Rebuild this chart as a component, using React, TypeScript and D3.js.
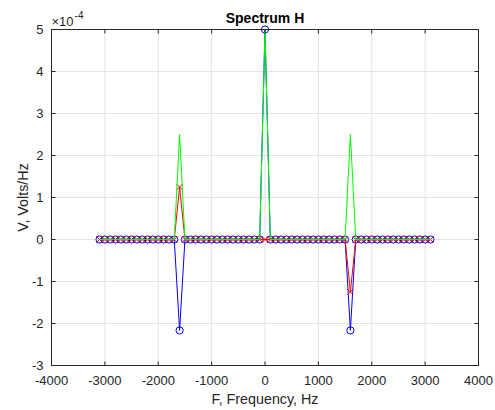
import React from 'react';
import * as d3 from 'd3';

const freqs = [
  -3100, -3000, -2900, -2800, -2700, -2600, -2500, -2400, -2300, -2200, -2100,
  -2000, -1900, -1800, -1700, -1600, -1500, -1400, -1300, -1200, -1100,
  -1000, -900, -800, -700, -600, -500, -400, -300, -200, -100,
  0,
  100, 200, 300, 400, 500, 600, 700, 800, 900, 1000,
  1100, 1200, 1300, 1400, 1500, 1600, 1700, 1800, 1900, 2000,
  2100, 2200, 2300, 2400, 2500, 2600, 2700, 2800, 2900, 3000, 3100,
];

// Real part (blue, circles)
const realH = [
  0, 0, 0, 0, 0, 0, 0, 0, 0, 0, 0, 0, 0, 0, 0,
  -2.165e-4,
  0, 0, 0, 0, 0, 0, 0, 0, 0, 0, 0, 0, 0, 0, 0,
  5e-4,
  0, 0, 0, 0, 0, 0, 0, 0, 0, 0, 0, 0, 0, 0, 0,
  -2.165e-4,
  0, 0, 0, 0, 0, 0, 0, 0, 0, 0, 0, 0, 0, 0, 0,
];

// Imaginary part (red, x markers)
const imagH = [
  0, 0, 0, 0, 0, 0, 0, 0, 0, 0, 0, 0, 0, 0, 0,
  1.25e-4,
  0, 0, 0, 0, 0, 0, 0, 0, 0, 0, 0, 0, 0, 0, 0,
  0,
  0, 0, 0, 0, 0, 0, 0, 0, 0, 0, 0, 0, 0, 0, 0,
  -1.25e-4,
  0, 0, 0, 0, 0, 0, 0, 0, 0, 0, 0, 0, 0, 0, 0,
];

// Magnitude (green line)
const absH = [
  0, 0, 0, 0, 0, 0, 0, 0, 0, 0, 0, 0, 0, 0, 0,
  2.5e-4,
  0, 0, 0, 0, 0, 0, 0, 0, 0, 0, 0, 0, 0, 0, 0,
  5e-4,
  0, 0, 0, 0, 0, 0, 0, 0, 0, 0, 0, 0, 0, 0, 0,
  2.5e-4,
  0, 0, 0, 0, 0, 0, 0, 0, 0, 0, 0, 0, 0, 0, 0,
];

const xTicks = [-4000, -3000, -2000, -1000, 0, 1000, 2000, 3000, 4000];
const yTicks = [-3e-4, -2e-4, -1e-4, 0, 1e-4, 2e-4, 3e-4, 4e-4, 5e-4];
const yTickLabels = ['-3', '-2', '-1', '0', '1', '2', '3', '4', '5'];

const titleText = 'Spectrum H';
const xLabelText = 'F, Frequency, Hz';
const yLabelText = 'V, Volts/Hz';

const FONT = '"Liberation Sans", Arial, Helvetica, sans-serif';
const AXIS = '#262626';
const GRID = '#e3e3e3';

export default function App() {
  const W = 495;
  const H = 410;
  const L = 51.5, R = 478.5, T = 29.5, B = 365.5;
  const x = d3.scaleLinear().domain([-4000, 4000]).range([L, R]);
  const y = d3.scaleLinear().domain([-3e-4, 5e-4]).range([B, T]);

  const mkLine = (vals: number[]) =>
    d3.line<number>().x((_, i) => x(freqs[i])).y((d) => y(d))(vals) || '';

  const tickLen = 4;
  const xs = 3;

  return (
    <svg
      width={W}
      height={H}
      style={{ position: 'fixed', left: 0, top: 0, background: '#fff' }}
      fontFamily={FONT}
    >
      <rect x={0} y={0} width={W} height={H} fill="#fff" />
      {/* grid */}
      {xTicks.map((t) => (
        <line key={'gx' + t} x1={x(t)} x2={x(t)} y1={T} y2={B} stroke={GRID} strokeWidth={1} />
      ))}
      {yTicks.map((t) => (
        <line key={'gy' + t} x1={L} x2={R} y1={y(t)} y2={y(t)} stroke={GRID} strokeWidth={1} />
      ))}

      {/* blue: real */}
      <path d={mkLine(realH)} fill="none" stroke="#0000ff" strokeWidth={1} />
      {realH.map((v, i) => (
        <circle key={'c' + i} cx={x(freqs[i])} cy={y(v)} r={3.6} fill="none" stroke="#0000ff" strokeWidth={1} />
      ))}

      {/* red: imag */}
      <path d={mkLine(imagH)} fill="none" stroke="#ff0000" strokeWidth={1} />
      {imagH.map((v, i) => {
        const cx = x(freqs[i]);
        const cy = y(v);
        return (
          <path
            key={'x' + i}
            d={`M${cx - xs},${cy - xs}L${cx + xs},${cy + xs}M${cx - xs},${cy + xs}L${cx + xs},${cy - xs}`}
            stroke="#ff0000"
            strokeWidth={1}
            fill="none"
          />
        );
      })}

      {/* green: magnitude */}
      <path d={mkLine(absH)} fill="none" stroke="#00ff00" strokeWidth={1} />

      {/* axes box */}
      <rect x={L} y={T} width={R - L} height={B - T} fill="none" stroke={AXIS} strokeWidth={1} />
      {xTicks.map((t) => (
        <g key={'tx' + t}>
          <line x1={x(t)} x2={x(t)} y1={B} y2={B - tickLen} stroke={AXIS} />
          <line x1={x(t)} x2={x(t)} y1={T} y2={T + tickLen} stroke={AXIS} />
          <text x={x(t)} y={385} textAnchor="middle" fontSize={13} fill={AXIS}>
            {t}
          </text>
        </g>
      ))}
      {yTicks.map((t, i) => (
        <g key={'ty' + t}>
          <line x1={L} x2={L + tickLen} y1={y(t)} y2={y(t)} stroke={AXIS} />
          <line x1={R} x2={R - tickLen} y1={y(t)} y2={y(t)} stroke={AXIS} />
          <text x={43.5} y={y(t) + 4.6} textAnchor="end" fontSize={13} fill={AXIS}>
            {yTickLabels[i]}
          </text>
        </g>
      ))}

      {/* exponent */}
      <text x={51.5} y={25.5} fontSize={13} fill={AXIS}>
        ×10
        <tspan dy={-7} dx={1} fontSize={10}>-4</tspan>
      </text>

      {/* title */}
      <text x={(L + R) / 2} y={23} textAnchor="middle" fontSize={14} fontWeight="bold" fill="#000">
        {titleText}
      </text>

      {/* axis labels */}
      <text x={(L + R) / 2} y={403.5} textAnchor="middle" fontSize={14.3} fill={AXIS}>
        {xLabelText}
      </text>
      <text
        transform={`translate(27.5,${(T + B) / 2}) rotate(-90)`}
        textAnchor="middle"
        fontSize={14.3}
        fill={AXIS}
      >
        {yLabelText}
      </text>
    </svg>
  );
}
